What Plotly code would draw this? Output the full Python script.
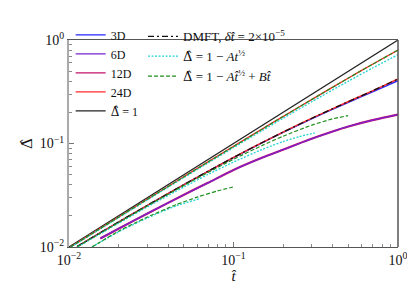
import plotly.graph_objects as go

# ---- data ----
t_ref = [0.01, 1.0]
d_ref = [0.01, 1.0]

t_up = [0.0102, 0.015, 0.02, 0.03, 0.05, 0.07, 0.1, 0.15, 0.2, 0.3, 0.5, 0.7, 1.0]
d_up_24d = [0.0100, 0.01463, 0.01943, 0.02896, 0.04776, 0.0663, 0.0937, 0.1384, 0.1821, 0.2671, 0.4293, 0.5829, 0.80]
d_up_green = [0.0100, 0.01462, 0.01942, 0.02895, 0.04774, 0.0663, 0.0936, 0.1383, 0.1820, 0.2669, 0.4290, 0.5825, 0.799]
t_up_cyan = [0.0103, 0.015, 0.02, 0.03, 0.05, 0.07, 0.1, 0.15, 0.2, 0.3, 0.5, 0.7, 1.0]
d_up_cyan = [0.01001, 0.01449, 0.01921, 0.02855, 0.04687, 0.06481, 0.09115, 0.1337, 0.1750, 0.2540, 0.4010, 0.5360, 0.72]

t_mid = [0.0112, 0.015, 0.02, 0.03, 0.05, 0.07, 0.1, 0.15, 0.2, 0.3, 0.5, 0.7, 1.0]
d_dmft = [0.0101, 0.0133, 0.01741, 0.0253, 0.0401, 0.0539, 0.0732, 0.1023, 0.1287, 0.1755, 0.2543, 0.3227, 0.42]
d_24d = [0.0101, 0.0133, 0.01742, 0.0253, 0.0401, 0.0539, 0.0733, 0.1024, 0.1288, 0.1757, 0.2545, 0.3230, 0.421]
d_3d = [0.0101, 0.0133, 0.01740, 0.0253, 0.0400, 0.0538, 0.0731, 0.1020, 0.1282, 0.1740, 0.2500, 0.3160, 0.405]

t_mid_green = [0.0112, 0.015, 0.02, 0.03, 0.05, 0.07, 0.1, 0.15, 0.2, 0.3, 0.4, 0.497]
d_mid_green = [0.01006, 0.01323, 0.01728, 0.02503, 0.03937, 0.05249, 0.07031, 0.0960, 0.1175, 0.1507, 0.1729, 0.1857]
t_mid_cyan = [0.0113, 0.015, 0.02, 0.03, 0.05, 0.07, 0.1, 0.15, 0.2, 0.25, 0.312]
d_mid_cyan = [0.01002, 0.01303, 0.01697, 0.02444, 0.03804, 0.05018, 0.06617, 0.0878, 0.1043, 0.1163, 0.1265]

t_low = [0.0155, 0.02, 0.03, 0.05, 0.07, 0.1, 0.15, 0.2, 0.284, 0.4, 0.5, 0.7, 1.0]
d_6d = [0.0121, 0.01503, 0.0211, 0.0320, 0.0417, 0.0555, 0.0731, 0.0871, 0.108, 0.1305, 0.1460, 0.1680, 0.19]
d_12d = [0.0121, 0.01503, 0.0211, 0.0320, 0.0417, 0.0555, 0.0731, 0.0871, 0.108, 0.1305, 0.1460, 0.1680, 0.19]

t_low_green = [0.0138, 0.02, 0.03, 0.045, 0.0608, 0.08, 0.102]
d_low_green = [0.0100, 0.01422, 0.0195, 0.0257, 0.0305, 0.0348, 0.0384]
t_low_cyan = [0.0138, 0.02, 0.03, 0.045, 0.0623]
d_low_cyan = [0.0100, 0.0140, 0.0191, 0.0250, 0.0293]

x_ticks = [0.01, 0.1, 1.0]
y_ticks = [0.01, 0.1, 1.0]
tick_text = ["10<sup>−2</sup>", "10<sup>−1</sup>", "10<sup>0</sup>"]

# ---- styles ----
C3, C6, C12, C24 = "#2424ff", "#7b22cc", "#c4106a", "#ff2a2a"
CCYAN, CGREEN = "#22d4d4", "#1f8f1f"
FONT = "Liberation Serif"
HAT_D = '<span style="font-family:DejaVu Serif">Δ\u0302</span>'
DASHDOT, DOT, DASH = "6px,3px,2px,3px", "2px,1.5px", "4px,2px"

fig = go.Figure()

def add(x, y, color, width=1.3, dash="solid"):
    fig.add_trace(go.Scatter(
        x=x, y=y, mode="lines", showlegend=False, hoverinfo="skip",
        line=dict(color=color, width=width, dash=dash, shape="spline", smoothing=0.6)))

def key(name, color, dash="solid", legend="legend", rank=1):
    fig.add_trace(go.Scatter(
        x=[None], y=[None], mode="lines", name=name, legend=legend, legendrank=rank,
        line=dict(color=color, width=1.2, dash=dash), showlegend=True))

# curves
add(t_ref, d_ref, "#222222", 1.2)
add(t_mid, d_3d, C3, 1.4)
add(t_low, d_12d, C12, 2.2)
add(t_low, d_6d, C6, 1.3)
add(t_mid, d_24d, C24, 1.4)
add(t_up, d_up_24d, C24, 1.4)
add(t_mid, d_dmft, "#111111", 1.3, DASHDOT)
add(t_up_cyan, d_up_cyan, CCYAN, 1.3, DOT)
add(t_mid_cyan, d_mid_cyan, CCYAN, 1.3, DOT)
add(t_low_cyan, d_low_cyan, CCYAN, 1.3, DOT)
add(t_up, d_up_green, CGREEN, 1.2, DASH)
add(t_mid_green, d_mid_green, CGREEN, 1.2, DASH)
add(t_low_green, d_low_green, CGREEN, 1.2, DASH)

# legend entries
key("3D", C3, rank=1)
key("6D", C6, rank=2)
key("12D", C12, rank=3)
key("24D", C24, rank=4)
key(HAT_D + " = 1", "#222222", rank=5)
key("DMFT, <i>δt\u0302</i> = 2×10<sup>−5</sup>", "#111111", DASHDOT, "legend2", 1)
key(HAT_D + " = 1 − <i>At</i><sup>½</sup>", CCYAN, DOT, "legend2", 2)
key(HAT_D + " = 1 − <i>At\u0302</i><sup>½</sup> + <i>Bt\u0302</i>", CGREEN, DASH, "legend2", 3)

axis_common = dict(
    type="log", range=[-2, 0], showgrid=False, zeroline=False,
    ticks="inside", ticklen=5, tickcolor="#777", tickwidth=1,
    tickfont=dict(family=FONT, size=14, color="#111"),
    minor=dict(ticks="inside", ticklen=3, tickcolor="#888", dtick="D1", showgrid=False),
)

fig.update_layout(
    width=415, height=291,
    margin=dict(l=61, r=25, t=22, b=52),
    paper_bgcolor="white", plot_bgcolor="white",
    font=dict(family=FONT, size=13, color="#111"),
    xaxis=dict(**axis_common, tickvals=x_ticks, ticktext=tick_text, showline=True,
               linecolor="#555", linewidth=1, mirror=True,
               title=dict(text="<i>t\u0302</i>", font=dict(family=FONT, size=15), standoff=2)),
    yaxis=dict(**axis_common, tickvals=y_ticks, ticktext=tick_text, showline=True,
               linecolor="#aaa", linewidth=2, mirror=False,
               title=dict(text=HAT_D, font=dict(family=FONT, size=15), standoff=4)),
    legend=dict(x=0.005, y=1.095, xanchor="left", yanchor="top", bgcolor="rgba(0,0,0,0)",
                font=dict(family=FONT, size=12), tracegroupgap=0, itemwidth=30),
    legend2=dict(x=0.225, y=1.09, xanchor="left", yanchor="top", bgcolor="rgba(0,0,0,0)",
                 font=dict(family=FONT, size=13), tracegroupgap=0, itemwidth=30),
    shapes=[dict(type="line", xref="paper", yref="paper", x0=1, x1=1, y0=0, y1=1,
                 line=dict(color="#555", width=1.5))],
)

fig.write_html("out.html")
